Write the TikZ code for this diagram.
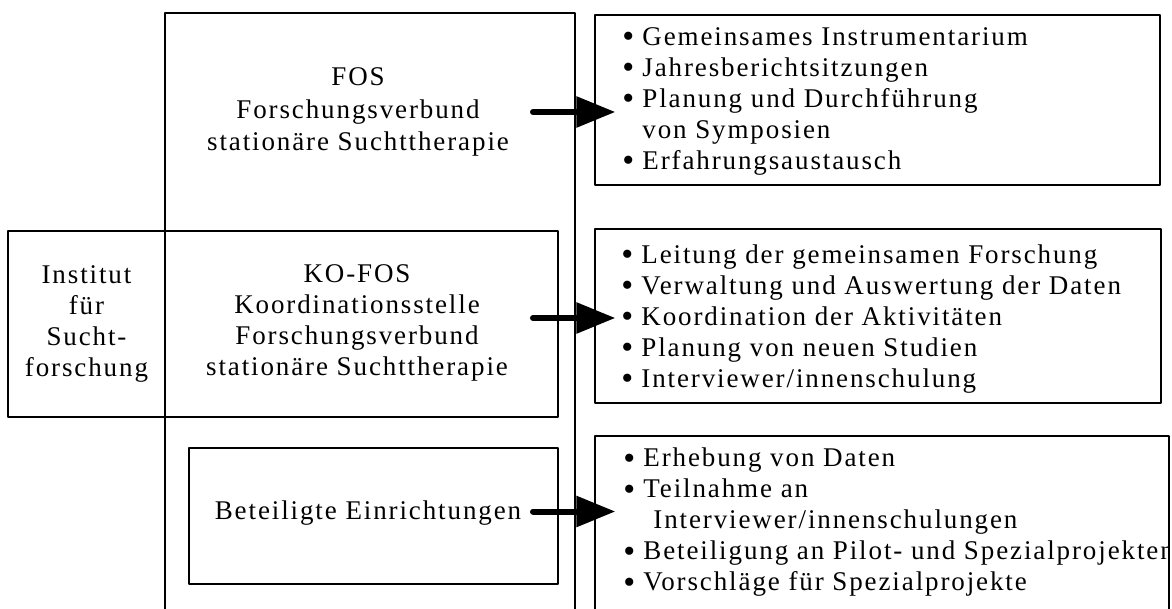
\documentclass[tikz,border=0pt]{standalone}
\usepackage{fontspec}
\setmainfont{Liberation Serif}[LetterSpace=7]
\usetikzlibrary{arrows.meta}
\newcommand\pkt{\makebox[10pt][l]{\smash{\raisebox{-1.2pt}{\fontsize{17}{17}\selectfont\textbullet}}}}
\newcommand\weiter{\hspace*{10pt}}
\begin{document}
\begin{tikzpicture}[x=0.5pt, y=-0.5pt, line join=round,
  font=\fontsize{13.5}{15.5}\selectfont,
  kasten/.style={draw, line width=0.7pt, rectangle, inner sep=0pt},
  titel/.style={align=center, inner sep=0pt},
  liste/.style={align=left, inner sep=0pt, anchor=west},
  pfeil/.style={line width=3pt, line cap=round, shorten >=-10.5pt,
    -{Triangle[length=19.5pt, width=15pt]}}]
\clip (0,0) rectangle (1172,609);
% linke Seite
\node[kasten, minimum width=205pt, minimum height=323.5pt] (fos) at (370,336.5) {};
\node[kasten, minimum width=78.5pt, minimum height=93pt] (inst) at (86.5,324) {};
\node[kasten, minimum width=196.5pt, minimum height=93pt] (kofos) at (361.5,324) {};
\node[kasten, minimum width=184.5pt, minimum height=68pt] (bet) at (373.5,516) {};
\path
(358,112) node[titel, font=\fontsize{13.5}{16.3}\selectfont] (fostitel) {FOS\\Forschungsverbund\\stationäre Suchttherapie}
(inst) node[titel] (insttitel) {Institut\\für\\Sucht-\\forschung}
(357,323) node[titel] (kofostitel) {KO-FOS\\Koordinationsstelle\\Forschungsverbund\\stationäre Suchttherapie}
(368,513) node[titel] (bettitel) {Beteiligte Einrichtungen};
% rechte Seite
\node[kasten, minimum width=282.5pt, minimum height=85pt] (aufg1) at (877.5,100) {};
\node[kasten, minimum width=283pt, minimum height=87pt] (aufg2) at (878,316) {};
\node[kasten, minimum width=287pt, minimum height=102pt] (aufg3) at (882,538) {};
\path
(622,101.5) node[liste] (liste1) {\pkt Gemeinsames Instrumentarium\\
  \pkt Jahresberichtsitzungen\\
  \pkt Planung und Durchführung\\
  \weiter von Symposien\\
  \pkt Erfahrungsaustausch}
(621,319) node[liste] (liste2) {\pkt Leitung der gemeinsamen Forschung\\
  \pkt Verwaltung und Auswertung der Daten\\
  \pkt Koordination der Aktivitäten\\
  \pkt Planung von neuen Studien\\
  \pkt Interviewer/innenschulung};
\begin{scope}
\clip (aufg3.north west) rectangle (aufg3.south east);
\node[liste] (liste3) at (623,522.5) {\pkt Erhebung von Daten\\
  \pkt Teilnahme an\\
  \weiter\hspace*{5pt}Interviewer/innenschulungen\\
  \pkt Beteiligung an Pilot- und Spezialprojekten\\
  \pkt Vorschläge für Spezialprojekte};
\end{scope}
% Pfeile
\coordinate (s1) at (533,112);
\coordinate (s2) at (533,318);
\coordinate (s3) at (533,511.5);
\draw[pfeil] (s1) -- (s1 -| aufg1.west);
\draw[pfeil] (s2) -- (s2 -| aufg2.west);
\draw[pfeil] (s3) -- (s3 -| aufg3.west);
\end{tikzpicture}
\end{document}
